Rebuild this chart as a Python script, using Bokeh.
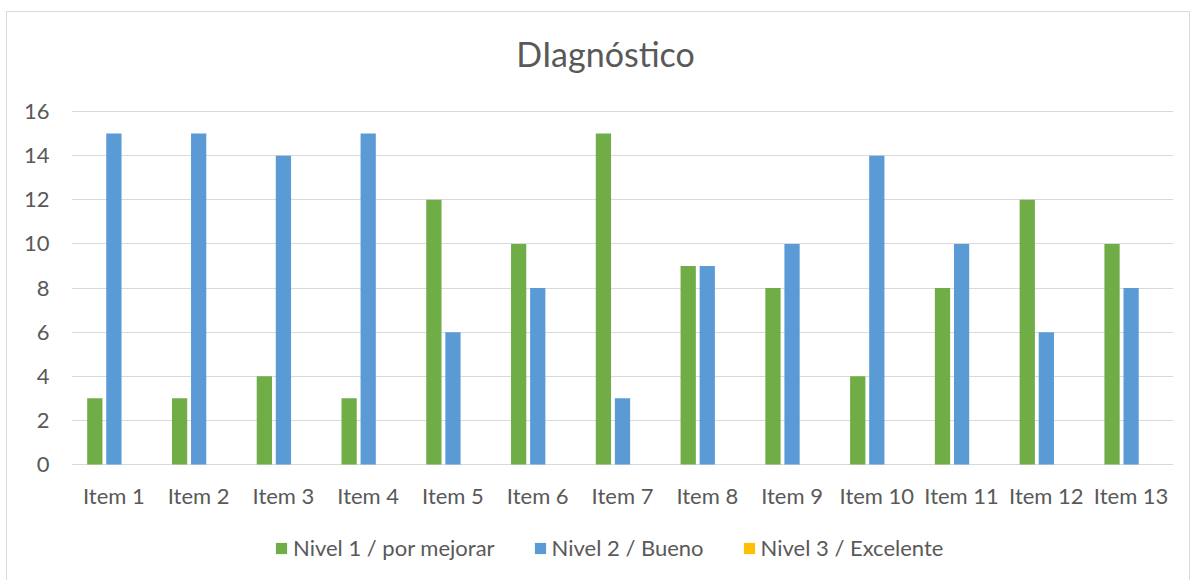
from bokeh.plotting import figure
from bokeh.models import ColumnDataSource, Range1d, Legend, LegendItem, FactorRange, Label
from bokeh.transform import dodge
from bokeh.core.properties import value
from bokeh.embed import file_html
from bokeh.resources import INLINE

title = "DIagnóstico"
items = ["Item 1", "Item 2", "Item 3", "Item 4", "Item 5", "Item 6", "Item 7",
         "Item 8", "Item 9", "Item 10", "Item 11", "Item 12", "Item 13"]
nivel1 = [3, 3, 4, 3, 12, 10, 15, 9, 8, 4, 8, 12, 10]
nivel2 = [15, 15, 14, 15, 6, 8, 3, 9, 10, 14, 10, 6, 8]
nivel3 = [0, 0, 0, 0, 0, 0, 0, 0, 0, 0, 0, 0, 0]
series_names = ["Nivel 1 / por mejorar", "Nivel 2 / Bueno", "Nivel 3 / Excelente"]
colors = ["#70AD47", "#5B9BD5", "#FFC000"]
y_ticks = [0, 2, 4, 6, 8, 10, 12, 14, 16]

src = ColumnDataSource(dict(items=items, n1=nivel1, n2=nivel2, n3=nivel3))

FONT = "Lato"
TXT = "#595959"

# layout (pixels): the frame spans the whole inner height of the chart box,
# the value axis 0..16 occupies 353 px of it, title and legend sit inside it
PX_PER_UNIT = 353 / 16
ABOVE_16 = 99       # px from frame top to the 16 gridline
BELOW_0 = 120       # px from the 0 line to frame bottom
TITLE_FROM_16 = 58  # px from the 16 gridline up to title middle
FRAME_H = ABOVE_16 + 353 + BELOW_0

p = figure(x_range=FactorRange(*items),
           y_range=Range1d(-BELOW_0 / PX_PER_UNIT, 16 + ABOVE_16 / PX_PER_UNIT),
           frame_width=1102, frame_height=FRAME_H, output_backend="svg", toolbar_location=None,
           min_border_left=64, min_border_right=16, min_border_top=0, min_border_bottom=0,
           margin=(11, 0, 0, 6))
p.styles = {"border": "1px solid #D9D9D9"}

renderers = []
for col, off, c in zip(["n1", "n2", "n3"], [-0.225, 0.0, 0.225], colors):
    r = p.vbar(x=dodge("items", off, range=p.x_range), top=col, width=0.18,
               source=src, fill_color=c, line_color=None)
    renderers.append(r)

# category labels under the zero line
p.text(x="items", y=0, text="items", source=src, text_font=value(FONT),
       text_font_size="22px", text_color=TXT, text_align="center",
       text_baseline="middle", y_offset=31)

# chart title, centred on the chart box (slightly left of the frame centre)
p.add_layout(Label(x=len(items) / 2, y=16 + TITLE_FROM_16 / PX_PER_UNIT, x_offset=-17,
                   text=title, text_font=FONT, text_font_size="34px", text_color=TXT,
                   text_align="center", text_baseline="middle"))

p.outline_line_color = None
p.xgrid.grid_line_color = None
p.xaxis.visible = False
p.ygrid.ticker = y_ticks
p.ygrid.grid_line_color = "#D9D9D9"
p.ygrid.grid_line_width = 1
p.yaxis.ticker = y_ticks
p.yaxis.axis_line_color = None
p.yaxis.major_tick_line_color = None
p.yaxis.minor_tick_line_color = None
p.yaxis.major_tick_out = 0
p.yaxis.major_label_standoff = 22
p.yaxis.major_label_text_font = FONT
p.yaxis.major_label_text_font_size = "22px"
p.yaxis.major_label_text_color = TXT

legend = Legend(items=[LegendItem(label=n, renderers=[r]) for n, r in zip(series_names, renderers)],
                orientation="horizontal", location=(203, 23))
legend.border_line_color = None
legend.background_fill_alpha = 0
legend.label_text_font = FONT
legend.label_text_font_size = "22px"
legend.label_text_color = TXT
legend.glyph_width = 14
legend.glyph_height = 14
legend.label_height = 20
legend.label_standoff = 5
legend.spacing = 38
legend.padding = 0
legend.margin = 0
p.add_layout(legend, "center")

open("out.html", "w").write(file_html(p, INLINE))
